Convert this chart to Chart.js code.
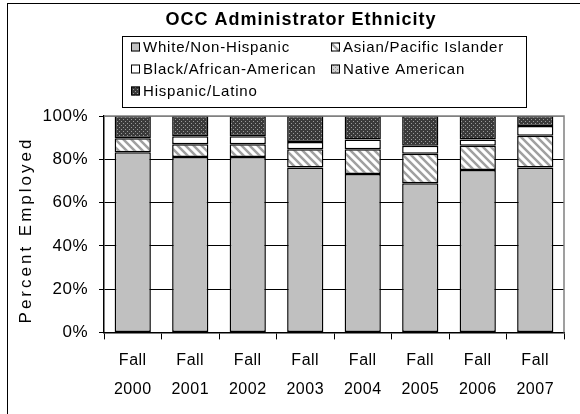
<!DOCTYPE html>
<html>
<head>
<meta charset="utf-8">
<script src="https://cdn.jsdelivr.net/npm/chart.js@4.4.0/dist/chart.umd.min.js"></script>
<style>
  html, body { margin: 0; padding: 0; background: #fff; }
  #wrap { position: relative; width: 580px; height: 414px; }
  #frame { position: absolute; left: 7px; top: 3px; width: 600px; height: 430px; border: 1.5px solid #000; box-sizing: border-box; }
  canvas { position: absolute; left: 0; top: 0; }
</style>
</head>
<body>
<div id="wrap">
  <div id="frame"></div>
  <canvas id="myChart" width="580" height="414"></canvas>
</div>
<script>
// data (percent of administrators)
const years = [["Fall", "2000"], ["Fall", "2001"], ["Fall", "2002"], ["Fall", "2003"],
               ["Fall", "2004"], ["Fall", "2005"], ["Fall", "2006"], ["Fall", "2007"]];
const white    = [83.2, 81.0, 81.0, 76.2, 73.2, 68.9, 75.1, 76.2];
const asian    = [6.5, 5.9, 5.9, 8.4, 11.4, 13.6, 11.1, 14.7];
const black    = [0.0, 3.7, 3.7, 3.4, 4.5, 3.7, 2.9, 4.5];
const native   = [0, 0, 0, 0, 0, 0, 0, 0];
const hispanic = [10.3, 9.4, 9.4, 12.0, 10.9, 13.8, 10.9, 4.6];
const yTicks = [0, 20, 40, 60, 80, 100];

const FONT = "'Liberation Sans', Arial, sans-serif";

// fill patterns like the old excel ones
function hatch() {
    const c = document.createElement("canvas");
    c.width = 8; c.height = 8;
    const g = c.getContext("2d");
    g.fillStyle = "#fff";
    g.fillRect(0, 0, 8, 8);
    g.strokeStyle = "#a0a0a0";
    g.lineWidth = 2.5;
    g.beginPath();
    g.moveTo(-2, -2); g.lineTo(10, 10);
    g.moveTo(-6, 2); g.lineTo(2, 10);
    g.moveTo(6, -2); g.lineTo(10, 2);
    g.stroke();
    return g.createPattern(c, "repeat");
}
function dots(bg, fg) {
    const c = document.createElement("canvas");
    c.width = 4; c.height = 4;
    const g = c.getContext("2d");
    g.fillStyle = bg;
    g.fillRect(0, 0, 4, 4);
    g.fillStyle = fg;
    g.fillRect(1, 1, 1, 1);
    g.fillRect(3, 3, 1, 1);
    return g.createPattern(c, "repeat");
}

const fills = {
    white: "#c0c0c0",
    asian: hatch(),
    black: "#ffffff",
    native: dots("#d0d0d0", "#8a8a8a"),
    hispanic: dots("#3a3a3a", "#9a9a9a")
};

// excel's text is spread out a bit
const spacing = {
    id: "spacing",
    beforeDraw(chart) { chart.ctx.letterSpacing = "0.5px"; }
};

// title, boxed legend, y title and plot border drawn on the canvas
const titleLegend = {
    id: "titleLegend",
    afterDraw(chart) {
        const ctx = chart.ctx;
        ctx.save();
        ctx.fillStyle = "#000";
        ctx.font = "bold 18px " + FONT;
        ctx.letterSpacing = "1px";
        ctx.textAlign = "center";
        ctx.textBaseline = "middle";
        ctx.fillText("OCC Administrator Ethnicity", 301, 20);

        ctx.strokeStyle = "#000";
        ctx.lineWidth = 1;
        ctx.strokeRect(122.5, 36.5, 404, 71);

        ctx.font = "15px " + FONT;
        ctx.letterSpacing = "0.8px";
        ctx.textAlign = "left";
        const cols = [131, 331];
        const rows = [47, 69, 91];
        chart.data.datasets.forEach((ds, i) => {
            const x = cols[i % 2];
            const y = rows[Math.floor(i / 2)];
            ctx.fillStyle = ds.backgroundColor;
            ctx.fillRect(x, y - 4.5, 9, 9);
            ctx.lineWidth = 1;
            ctx.strokeRect(x + 0.5, y - 4, 8, 8);
            ctx.fillStyle = "#000";
            ctx.fillText(ds.label, x + 12, y + 1);
        });

        // y axis title
        ctx.save();
        ctx.translate(26, 230);
        ctx.rotate(-Math.PI / 2);
        ctx.font = "17px " + FONT;
        ctx.letterSpacing = "3px";
        ctx.textAlign = "center";
        ctx.fillText("Percent Employed", 0, 0);
        ctx.restore();

        // gray plot border on top and right
        const a = chart.chartArea;
        ctx.strokeStyle = "#808080";
        ctx.lineWidth = 1.5;
        ctx.beginPath();
        ctx.moveTo(a.left, a.top);
        ctx.lineTo(a.right, a.top);
        ctx.lineTo(a.right, a.bottom);
        ctx.stroke();
        ctx.restore();
    }
};

function makeSet(label, data, fill) {
    return {
        label: label,
        // zero rows are left out so no empty outline is drawn
        data: data.map(v => v === 0 ? null : v),
        backgroundColor: fill,
        borderColor: "#000",
        borderWidth: 1.5,
        borderSkipped: false,
        categoryPercentage: 1,
        barPercentage: 0.63
    };
}

new Chart(document.getElementById("myChart"), {
    type: "bar",
    data: {
        labels: years,
        datasets: [
            makeSet("White/Non-Hispanic", white, fills.white),
            makeSet("Asian/Pacific Islander", asian, fills.asian),
            makeSet("Black/African-American", black, fills.black),
            makeSet("Native American", native, fills.native),
            makeSet("Hispanic/Latino", hispanic, fills.hispanic)
        ]
    },
    options: {
        responsive: false,
        animation: false,
        layout: { padding: { top: 116, right: 16, left: 10, bottom: 3 } },
        plugins: {
            legend: { display: false },
            title: { display: false },
            tooltip: { enabled: false }
        },
        scales: {
            x: {
                stacked: true,
                offset: true,
                grid: { offset: true, drawOnChartArea: false, drawTicks: true, tickLength: 7, color: "#000" },
                border: { color: "#000", width: 1.5 },
                ticks: { color: "#000", font: { family: FONT, size: 16, lineHeight: 1.8 }, maxRotation: 0, padding: 7 }
            },
            y: {
                stacked: true,
                min: 0,
                max: 100,
                afterBuildTicks(axis) { axis.ticks = yTicks.map(v => ({ value: v })); },
                afterFit(axis) { axis.width = 94; },
                grid: {
                    color: ctx => ctx.tick && ctx.tick.value === 100 ? "#808080" : "#000",
                    lineWidth: 1,
                    tickLength: 5,
                    tickColor: "#000"
                },
                border: { color: "#000", width: 1.5 },
                ticks: { color: "#000", font: { family: FONT, size: 17 }, padding: 11, callback: v => v + "%" }
            }
        }
    },
    plugins: [spacing, titleLegend]
});
</script>
</body>
</html>
